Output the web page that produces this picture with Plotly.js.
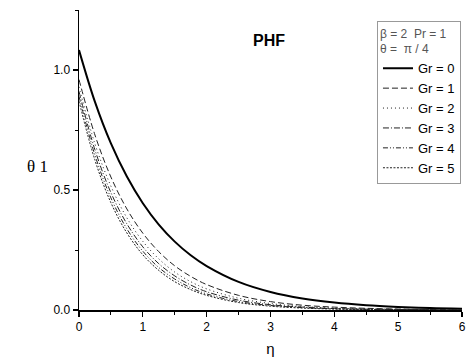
<!DOCTYPE html>
<html>
<head>
<meta charset="utf-8">
<script src="https://cdn.plot.ly/plotly-3.0.1.min.js"></script>
<style>
html,body{margin:0;padding:0;overflow:hidden;background:#fff;}
#chart{width:467px;height:358px;}
</style>
</head>
<body>
<div id="chart"></div>
<script>
const eta = [0,0.25,0.5,0.75,1,1.25,1.5,1.75,2,2.5,3,3.5,4,4.5,5,5.5,6];
const gr0 = [1.083,0.867,0.694,0.556,0.445,0.356,0.285,0.228,0.183,0.117,0.075,0.048,0.031,0.020,0.013,0.008,0.005];
const gr1 = [0.960,0.729,0.554,0.421,0.320,0.243,0.184,0.140,0.106,0.061,0.035,0.020,0.012,0.007,0.004,0.002,0.001];
const gr2 = [0.930,0.692,0.516,0.384,0.286,0.213,0.158,0.118,0.088,0.049,0.027,0.015,0.008,0.005,0.003,0.002,0.001];
const gr3 = [0.910,0.667,0.489,0.359,0.263,0.193,0.142,0.104,0.076,0.041,0.022,0.012,0.006,0.003,0.002,0.001,0.001];
const gr4 = [0.890,0.645,0.467,0.338,0.245,0.177,0.129,0.093,0.067,0.035,0.019,0.010,0.005,0.003,0.002,0.001,0.000];
const gr5 = [0.870,0.624,0.447,0.321,0.230,0.165,0.118,0.085,0.061,0.031,0.016,0.008,0.004,0.002,0.001,0.001,0.000];
const seriesNames = ['Gr = 0','Gr = 1','Gr = 2','Gr = 3','Gr = 4','Gr = 5'];
const seriesValues = [gr0,gr1,gr2,gr3,gr4,gr5];
const xTicks = [0,1,2,3,4,5,6];
const yTicks = [0,0.5,1.0];
const yTickLabels = ['0.0','0.5','1.0'];

const dashes = ['solid','6px,3px','1px,3px','6px,2px,1px,2px','5px,2px,1px,2px,1px,2px','2px,1.5px'];
const widths = [2,1,1,1,1,1];

const traces = seriesValues.map((v,i)=>({
  x: eta, y: v, name: seriesNames[i], mode:'lines', type:'scatter',
  line:{color: i===0 ? '#000' : '#222', width: widths[i], dash: dashes[i], shape:'spline', smoothing:1}
}));

const layout = {
  width:467, height:358,
  margin:{l:79, r:5, t:10, b:48},
  paper_bgcolor:'#fff', plot_bgcolor:'#fff',
  font:{family:'Liberation Sans, Arial, sans-serif', color:'#000'},
  showlegend:true,
  legend:{
    x:0.778, y:0.963, xanchor:'left', yanchor:'top',
    bordercolor:'#999', borderwidth:1, bgcolor:'#fff',
    font:{size:13, color:'#000'},
    tracegroupgap:0, itemwidth:30,
    title:{text:'β = 2  Pr = 1<br>θ =  π / 4', font:{size:12, color:'#555'}}
  },
  xaxis:{
    range:[0,6], tickvals:xTicks, ticktext:xTicks.map(String),
    showgrid:false, zeroline:false, showline:true, linecolor:'#000', linewidth:1.5,
    ticks:'outside', ticklen:5, tickwidth:1.2, tickcolor:'#000',
    tickfont:{size:12}, ticklabeloverflow:'allow',
    minor:{dtick:0.5, ticks:'outside', ticklen:3, tickcolor:'#000', tickwidth:1},
    title:{text:'η', font:{size:15}, standoff:10}
  },
  yaxis:{
    range:[0,1.25], tickvals:yTicks, ticktext:yTickLabels,
    showgrid:false, zeroline:false, showline:true, linecolor:'#000', linewidth:1.5,
    ticks:'outside', ticklen:5, tickwidth:1.2, tickcolor:'#000',
    tickfont:{size:12},
    minor:{dtick:0.25, ticks:'outside', ticklen:3, tickcolor:'#000', tickwidth:1}
  },
  annotations:[
    {text:'<b>PHF</b>', xref:'paper', yref:'paper', x:0.497, y:0.933, showarrow:false, font:{size:16}},
    {text:'θ 1', xref:'paper', yref:'paper', x:-0.14, y:0.477, showarrow:false, font:{size:17, family:'Liberation Serif, Times New Roman, serif'}}
  ]
};
Plotly.newPlot('chart', traces, layout, {displayModeBar:false, staticPlot:true});
</script>
</body>
</html>
